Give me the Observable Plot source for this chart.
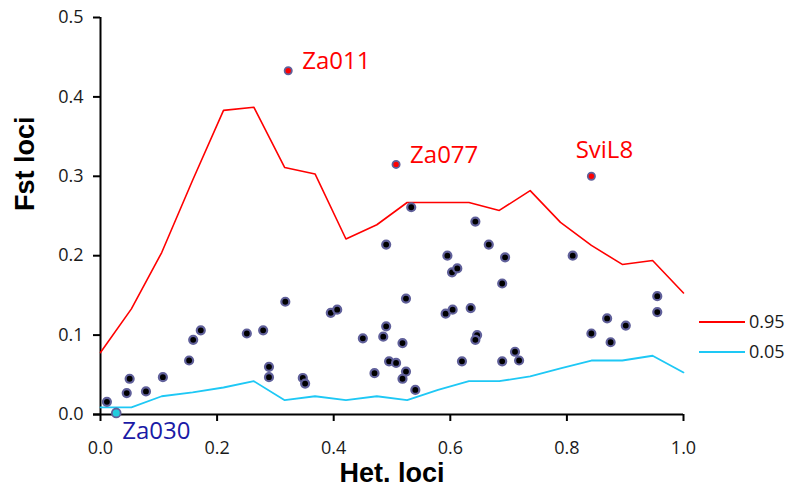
<!DOCTYPE html>
<html>
<head>
<meta charset="utf-8">
<script src="https://cdn.jsdelivr.net/npm/d3@7"></script>
<script src="https://cdn.jsdelivr.net/npm/@observablehq/plot@0.6"></script>
<style>
  body { margin: 0; background: #fff; }
  #wrap { position: relative; width: 790px; height: 495px; }
  #legend { position: absolute; left: 0; top: 0; pointer-events: none; }
</style>
</head>
<body>
<div id="wrap"></div>
<script>
// Quantile envelope (het bins)
const hetBins = [0, 0.053, 0.105, 0.158, 0.211, 0.263, 0.316, 0.368, 0.421, 0.474, 0.526, 0.579, 0.632, 0.684, 0.737, 0.789, 0.842, 0.895, 0.947, 1.0];
const q95 = [0.078, 0.133, 0.204, 0.295, 0.383, 0.387, 0.311, 0.303, 0.221, 0.239, 0.267, 0.267, 0.267, 0.257, 0.282, 0.242, 0.213, 0.189, 0.194, 0.153];
const q05 = [0.009, 0.009, 0.023, 0.028, 0.034, 0.042, 0.018, 0.023, 0.018, 0.023, 0.018, 0.031, 0.042, 0.042, 0.048, 0.058, 0.068, 0.068, 0.074, 0.053];

// Neutral loci
const lociHet = [0.011,0.045,0.050,0.078,0.107,0.152,0.159,0.172,0.251,0.279,0.289,0.289,0.317,
  0.533,0.643,0.490,0.595,0.603,0.612,0.395,0.406,0.524,0.592,0.604,0.635,0.490,0.485,0.450,0.518,0.646,0.643,0.347,0.351,0.470,0.495,0.507,0.524,0.518,0.540,0.620,
  0.666,0.694,0.810,0.689,0.955,0.955,0.869,0.901,0.842,0.875,0.711,0.718,0.689];
const lociFst = [0.016,0.027,0.045,0.029,0.047,0.068,0.094,0.106,0.102,0.106,0.060,0.047,0.142,
  0.261,0.243,0.214,0.200,0.179,0.184,0.128,0.132,0.146,0.127,0.132,0.134,0.111,0.098,0.096,0.090,0.100,0.094,0.046,0.039,0.052,0.067,0.065,0.054,0.045,0.031,0.067,
  0.214,0.198,0.200,0.165,0.149,0.129,0.121,0.112,0.102,0.091,0.079,0.068,0.067];

// Outlier loci
const outNames = ["Za011", "Za077", "SviL8", "Za030"];
const outHet = [0.322, 0.507, 0.842, 0.027];
const outFst = [0.433, 0.315, 0.300, 0.002];
const outType = ["high", "high", "high", "low"];

const xTicks = [0, 0.2, 0.4, 0.6, 0.8, 1.0];
const yTicks = [0, 0.1, 0.2, 0.3, 0.4, 0.5];
const legendLabels = ["0.95", "0.05"];

const env = hetBins.map((h, i) => ({het: h, hi: q95[i], lo: q05[i]}));
const loci = lociHet.map((h, i) => ({het: h, fst: lociFst[i]}));
const outs = outNames.map((n, i) => ({name: n, het: outHet[i], fst: outFst[i], type: outType[i]}));
const highs = outs.filter(d => d.type === "high");
const lows = outs.filter(d => d.type === "low");

const RED = "#ff0000", CYAN = "#1ec8f5", DOTSTROKE = "#60609a";
const FONT = "'Open Sans', sans-serif";
const BOLDFONT = "'Liberation Sans', Arial, sans-serif";

const chart = Plot.plot({
  width: 790,
  height: 495,
  marginLeft: 100,
  marginRight: 107,
  marginTop: 17,
  marginBottom: 81,
  style: {fontFamily: FONT, fontSize: "18px", background: "#fff", overflow: "visible"},
  x: {domain: [0, 1]},
  y: {domain: [0, 0.5]},
  marks: [
    Plot.axisX({ticks: xTicks, tickFormat: d3.format(".1f"), tickSize: 7, tickPadding: 20, fontSize: 18, label: null, stroke: "#000", strokeWidth: 2, color: "#1a1a1a"}),
    Plot.axisY({ticks: yTicks, tickFormat: d3.format(".1f"), tickSize: 7, tickPadding: 10, fontSize: 18, label: null, stroke: "#000", strokeWidth: 2, color: "#1a1a1a"}),
    Plot.ruleX([0], {stroke: "#000", strokeWidth: 2}),
    Plot.ruleY([0], {stroke: "#000", strokeWidth: 2, insetLeft: -7}),
    Plot.line(env, {x: "het", y: "hi", stroke: RED, strokeWidth: 1.6}),
    Plot.line(env, {x: "het", y: "lo", stroke: CYAN, strokeWidth: 1.8}),
    Plot.dot(loci, {x: "het", y: "fst", r: 4, fill: "#000", stroke: DOTSTROKE, strokeWidth: 2.2}),
    Plot.dot(highs, {x: "het", y: "fst", r: 3.6, fill: RED, stroke: DOTSTROKE, strokeWidth: 1.8}),
    Plot.dot(lows, {x: "het", y: "fst", r: 4.4, fill: "#22ccdd", stroke: DOTSTROKE, strokeWidth: 1.8, clip: false}),
    Plot.text(highs.slice(0, 2), {x: "het", y: "fst", text: "name", fill: RED, fontSize: 24, textAnchor: "start", dx: 14, dy: -9}),
    Plot.text(highs.slice(2), {x: "het", y: "fst", text: "name", fill: RED, fontSize: 24, textAnchor: "middle", dx: 13, dy: -26}),
    Plot.text(lows, {x: "het", y: "fst", text: "name", fill: "#1a1aa6", fontSize: 24, textAnchor: "start", dx: 6, dy: 18}),
    Plot.text(["Fst loci"], {frameAnchor: "left", dx: -75, dy: -5, rotate: -90, fontSize: 27, fontWeight: "bold", fontFamily: BOLDFONT, fill: "#000"}),
    Plot.text(["Het. loci"], {frameAnchor: "bottom", dy: 67, fontSize: 27, fontWeight: "bold", fontFamily: BOLDFONT, fill: "#000"})
  ]
});

const wrap = document.getElementById("wrap");
wrap.appendChild(chart);

// Legend (overlay, right of the plot)
const legendColors = [RED, CYAN];
const lg = d3.select(wrap).append("svg").attr("id", "legend").attr("width", 790).attr("height", 495);
legendLabels.forEach((lab, i) => {
  const y = 322 + i * 30;
  lg.append("line").attr("x1", 699).attr("x2", 745).attr("y1", y).attr("y2", y)
    .attr("stroke", legendColors[i]).attr("stroke-width", 1.8);
  lg.append("text").attr("x", 749).attr("y", y).attr("dy", "0.35em")
    .attr("font-family", FONT).attr("font-size", 18).attr("fill", "#1a1a1a").text(lab);
});
</script>
</body>
</html>
